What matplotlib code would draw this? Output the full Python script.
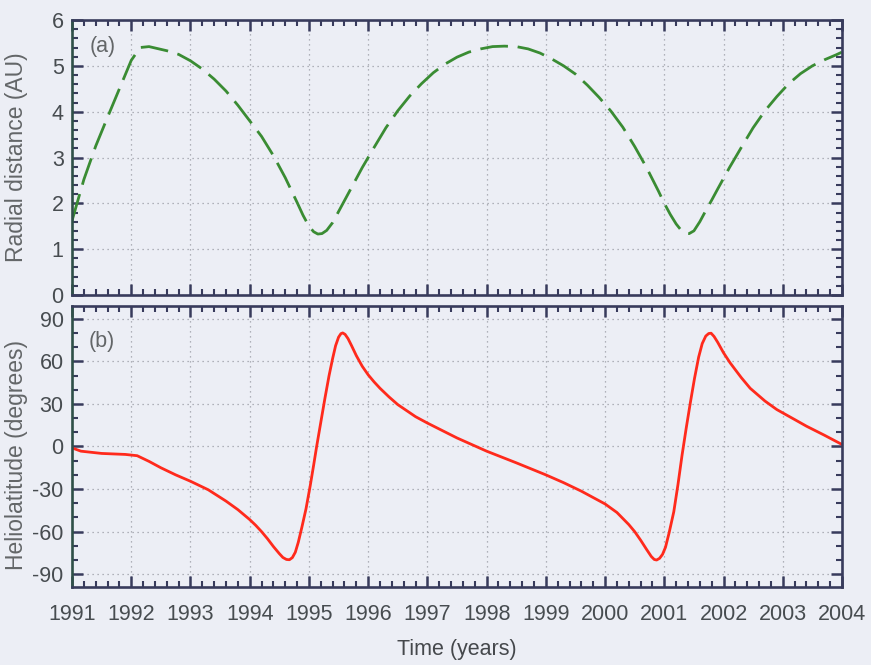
"""Ulysses orbit: radial distance and heliolatitude versus time, 1991-2004."""

import matplotlib

matplotlib.use("Agg")
import matplotlib.pyplot as plt
from matplotlib.ticker import MultipleLocator

# Panel (a): radial distance from the Sun (AU)
RADIAL_YEARS = [
    1991.0, 1991.2, 1991.4, 1991.6, 1991.8, 1992.0, 1992.15, 1992.3, 1992.6,
    1992.8, 1993.0, 1993.2, 1993.4, 1993.6, 1993.8, 1994.0, 1994.2, 1994.4,
    1994.6, 1994.8, 1994.9, 1995.0, 1995.08, 1995.15, 1995.22, 1995.3,
    1995.4, 1995.5, 1995.6, 1995.7, 1995.9, 1996.1, 1996.3, 1996.5, 1996.7,
    1996.9, 1997.1, 1997.3, 1997.5, 1997.7, 1997.9, 1998.1, 1998.3, 1998.5,
    1998.7, 1998.9, 1999.1, 1999.3, 1999.5, 1999.7, 1999.9, 2000.1, 2000.3,
    2000.5, 2000.7, 2000.9, 2001.0, 2001.1, 2001.2, 2001.28, 2001.35,
    2001.42, 2001.5, 2001.6, 2001.7, 2001.8, 2001.9, 2002.1, 2002.3, 2002.5,
    2002.7, 2002.9, 2003.1, 2003.3, 2003.5, 2003.7, 2003.9, 2004.0,
]
RADIAL_AU = [
    1.62, 2.52, 3.25, 3.88, 4.50, 5.12, 5.40, 5.42, 5.33,
    5.25, 5.11, 4.93, 4.71, 4.45, 4.14, 3.80, 3.46, 3.04,
    2.56, 2.02, 1.74, 1.50, 1.38, 1.33, 1.34, 1.41,
    1.58, 1.82, 2.06, 2.30, 2.78, 3.22, 3.65, 4.02, 4.34,
    4.61, 4.85, 5.04, 5.19, 5.30, 5.37, 5.42, 5.43, 5.42,
    5.37, 5.28, 5.15, 5.00, 4.82, 4.58, 4.31, 4.01, 3.66,
    3.24, 2.78, 2.27, 2.00, 1.76, 1.55, 1.42, 1.35,
    1.34, 1.40, 1.60, 1.84, 2.07, 2.31, 2.78, 3.22, 3.65,
    4.02, 4.33, 4.61, 4.83, 5.00, 5.13, 5.24, 5.30,
]

# Panel (b): heliographic latitude (degrees)
LAT_YEARS = [
    1991.0, 1991.15, 1991.5, 1991.9, 1992.1, 1992.3, 1992.5, 1992.75, 1993.0,
    1993.3, 1993.6, 1993.8, 1994.0, 1994.1, 1994.2, 1994.3, 1994.4, 1994.5,
    1994.56, 1994.62, 1994.67, 1994.72, 1994.77, 1994.82, 1994.88, 1994.95,
    1995.02, 1995.08, 1995.13, 1995.2, 1995.27, 1995.34, 1995.4, 1995.45,
    1995.5, 1995.54, 1995.57, 1995.61, 1995.66, 1995.72, 1995.8, 1995.9,
    1996.0, 1996.1, 1996.2, 1996.35, 1996.5, 1996.8, 1997.0, 1997.5, 1998.0,
    1998.5, 1999.0, 1999.3, 1999.6, 2000.0, 2000.2, 2000.4, 2000.5, 2000.6,
    2000.7, 2000.78, 2000.83, 2000.87, 2000.92, 2000.97, 2001.02, 2001.08,
    2001.16, 2001.23, 2001.3, 2001.37, 2001.44, 2001.51, 2001.58, 2001.64,
    2001.7, 2001.75, 2001.79, 2001.84, 2001.9, 2002.0, 2002.11, 2002.2,
    2002.3, 2002.45, 2002.7, 2002.9, 2003.2, 2003.4, 2003.7, 2004.0,
]
LAT_DEG = [
    -1.0, -3.3, -4.9, -5.6, -6.5, -10.5, -15.0, -20.0, -24.5,
    -30.5, -38.5, -44.5, -51.5, -55.5, -60.0, -65.0, -70.5, -75.5,
    -78.2, -79.6, -79.8, -78.3, -74.5, -67.5, -57.0, -44.0,
    -28.0, -13.0, 0.0, 17.0, 34.0, 50.0, 62.0, 71.0,
    77.0, 79.5, 80.0, 79.0, 76.0, 71.0, 64.0, 56.5,
    50.5, 45.5, 41.0, 35.0, 29.5, 21.0, 16.5, 6.0, -3.3,
    -11.5, -20.0, -25.5, -31.5, -40.5, -46.5, -55.0, -60.0, -66.0,
    -72.5, -77.5, -79.6, -80.0, -78.8, -76.0, -71.0, -61.0,
    -46.0, -27.0, -6.0, 13.0, 31.0, 48.0, 63.0, 72.5,
    77.8, 79.6, 79.8, 77.5, 73.5, 66.0, 59.0, 54.0,
    48.5, 41.0, 32.0, 26.0, 19.0, 14.3, 8.0, 1.4,
]

YEAR_TICKS = list(range(1991, 2005))

BG = "#eceef5"
SPINE_LEFT = "#2f5048"
SPINE_OTHER = "#383b5c"
TICK_TEXT = "#474c50"
LABEL_TEXT = "#636668"
FONT = "Liberation Sans"
FS = 15.5

plt.rcParams["axes.unicode_minus"] = False


def style_axes(ax):
    ax.set_facecolor(BG)
    for side, spine in ax.spines.items():
        spine.set_linewidth(1.9)
        spine.set_color(SPINE_LEFT if side == "left" else SPINE_OTHER)
    ax.tick_params(which="both", direction="in", top=True, right=True,
                   colors=SPINE_OTHER, labelcolor=TICK_TEXT, labelsize=FS)
    ax.tick_params(which="major", length=8, width=1.8)
    ax.tick_params(which="minor", length=4.5, width=1.5)
    ax.tick_params(axis="y", pad=6)
    ax.tick_params(axis="x", pad=12)
    ax.set_xlim(1991, 2004)
    ax.set_xticks(YEAR_TICKS)
    ax.xaxis.set_minor_locator(MultipleLocator(0.2))
    ax.grid(True, which="major", color="#9c9ea6", linestyle=(0, (1, 3)),
            linewidth=0.9)


def main() -> None:
    fig = plt.figure(figsize=(8.71, 6.65), dpi=100, facecolor=BG)
    ax_r = fig.add_axes([0.0827, 0.5564, 0.884, 0.4135])
    ax_l = fig.add_axes([0.0827, 0.1173, 0.884, 0.4226])

    # (a) radial distance
    style_axes(ax_r)
    ax_r.plot(RADIAL_YEARS, RADIAL_AU, color="#3a8c33", linewidth=2.0,
              dashes=(10, 3.5))
    ax_r.set_ylim(0, 6)
    ax_r.yaxis.set_major_locator(MultipleLocator(1))
    ax_r.yaxis.set_minor_locator(MultipleLocator(0.2))
    ax_r.tick_params(axis="x", labelbottom=False)
    ax_r.set_ylabel("Radial distance (AU)", fontsize=16.5, family=FONT,
                    color=LABEL_TEXT)
    ax_r.yaxis.set_label_coords(-0.057, 0.5)
    ax_r.text(0.023, 0.905, "(a)", transform=ax_r.transAxes, fontsize=FS,
              family=FONT, color=LABEL_TEXT, va="center")

    # (b) heliolatitude
    style_axes(ax_l)
    ax_l.plot(LAT_YEARS, LAT_DEG, color="#ff2a1c", linewidth=2.0)
    ax_l.set_ylim(-99, 99)
    ax_l.set_yticks(range(-90, 91, 30))
    ax_l.yaxis.set_minor_locator(MultipleLocator(10))
    ax_l.set_ylabel("Heliolatitude (degrees)", fontsize=16.5, family=FONT,
                    color=LABEL_TEXT)
    ax_l.yaxis.set_label_coords(-0.057, 0.47)
    ax_l.set_xlabel("Time (years)", fontsize=FS, family=FONT, color="#45484c")
    ax_l.xaxis.set_label_coords(0.5, -0.185)
    ax_l.text(0.021, 0.872, "(b)", transform=ax_l.transAxes, fontsize=FS,
              family=FONT, color=LABEL_TEXT, va="center")

    for ax in (ax_r, ax_l):
        for lbl in ax.get_xticklabels() + ax.get_yticklabels():
            lbl.set_fontfamily(FONT)

    fig.savefig("out.png", dpi=100, facecolor=BG)


if __name__ == "__main__":
    main()
